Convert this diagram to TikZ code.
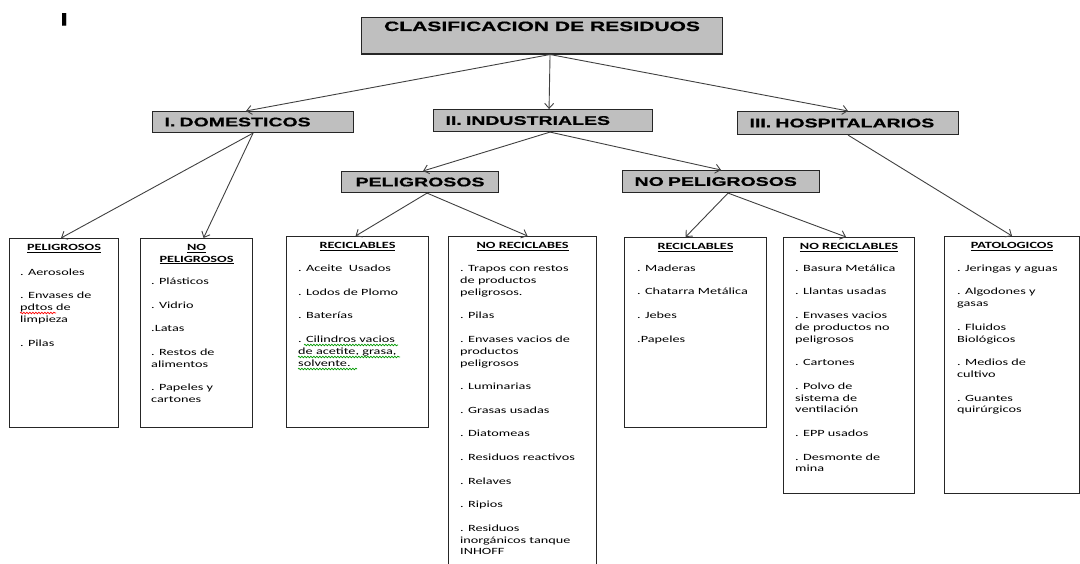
\documentclass[tikz,border=0pt]{standalone}
\usepackage{fontspec}
\usetikzlibrary{arrows.meta,decorations.pathmorphing}
\setmainfont{Carlito}[FakeStretch=1.5]
\newfontfamily\hdrfont{Liberation Sans}[FakeStretch=1.56, BoldFeatures={FakeBold=0.8}]
\tikzset{
  hdr/.style={draw=black!85, line width=1.1pt, fill=gray!50, anchor=north west,
    font=\hdrfont\bfseries\fontsize{12.5}{14}\selectfont, inner xsep=12pt, inner ysep=0pt, align=left},
  leaf/.style={draw=black!85, line width=1.1pt, anchor=north west, inner sep=0pt},
  leafhead/.style={font=\bfseries\fontsize{9.5}{11.8}\selectfont, anchor=north, inner sep=0pt, align=center},
  leaftext/.style={font=\fontsize{9.5}{11.8}\selectfont, anchor=north west, inner sep=0pt, align=left},
  link/.style={->, draw=black!75, line width=0.9pt},
  squiggle/.style={line width=0.7pt, decorate, decoration={snake, amplitude=0.8pt, segment length=3pt}},
}
\newcommand\sk{\\[11.8pt]}
\begin{document}
\begin{tikzpicture}[x=1pt, y=-1pt, >={Straight Barb[length=5pt,width=9pt]}]
		\useasboundingbox (0,0) rectangle (1080,564);
		\clip (0,0) rectangle (1080,564);
		\node[font=\hdrfont\bfseries\fontsize{18}{20}\selectfont, inner sep=0pt, anchor=north west] (mark) at (60,13) {I};
		
		% upper levels
		\node[hdr, minimum width=361pt, align=center, inner ysep=4pt, text depth=19pt,
		  font=\hdrfont\bfseries\fontsize{13.5}{15}\selectfont] (clas) at (361,17) {CLASIFICACION DE RESIDUOS};
		\node[hdr, text width=177pt, minimum height=21pt] (dom) at (152,111) {I. DOMESTICOS};
		\node[hdr, text width=195pt, minimum height=22pt] (ind) at (433,109) {II. INDUSTRIALES};
		\node[hdr, text width=197pt, minimum height=23pt] (hosp) at (737,111) {III. HOSPITALARIOS};
		\node[hdr, text width=133pt, minimum height=21pt, align=center] (pel) at (341,171) {PELIGROSOS};
		\node[hdr, text width=173pt, minimum height=22pt] (np) at (622,170) {NO PELIGROSOS};
		
		% lower boxes
		\node[leaf, minimum width=109pt, minimum height=189pt] (b1) at (9,238) {};
		\node[leaf, minimum width=112pt, minimum height=189pt] (b2) at (140,238) {};
		\node[leaf, minimum width=142pt, minimum height=191pt] (b3) at (286,236) {};
		\node[leaf, minimum width=148pt, minimum height=340pt] (b4) at (448,236) {};
		\node[leaf, minimum width=142pt, minimum height=190pt] (b5) at (624,237) {};
		\node[leaf, minimum width=131pt, minimum height=256pt] (b6) at (783,237) {};
		\node[leaf, minimum width=135pt, minimum height=257pt] (b7) at (944,236) {};
		
		\node[leafhead] (b1h) at ([shift={(0,6)}]b1.north) {\underline{PELIGROSOS}};
		\node[leafhead] (b2h) at ([shift={(0,6)}]b2.north) {\underline{NO}\\\underline{PELIGROSOS}};
		\node[leafhead] (b3h) at ([shift={(0,6)}]b3.north) {\underline{RECICLABLES}};
		\node[leafhead] (b4h) at ([shift={(0,6)}]b4.north) {\underline{NO RECICLABES}};
		\node[leafhead] (b5h) at ([shift={(0,6)}]b5.north) {\underline{RECICLABLES}};
		\node[leafhead] (b6h) at ([shift={(0,6)}]b6.north) {\underline{NO RECICLABLES}};
		\node[leafhead] (b7h) at ([shift={(0,6)}]b7.north) {\underline{PATOLOGICOS}};
		
		\node[leaftext] (b1t) at ([shift={(11,30.5)}]b1.north west)
		  {. Aerosoles\sk . Envases de\\pdtos de\\limpieza\sk . Pilas};
		\node[leaftext] (b2t) at ([shift={(11,40)}]b2.north west)
		  {. Plásticos\sk . Vidrio\sk .Latas\sk . Restos de\\alimentos\sk . Papeles y\\cartones};
		\node[leaftext] (b3t) at ([shift={(12,29)}]b3.north west)
		  {. Aceite\ \ Usados\sk . Lodos de Plomo\sk . Baterías\sk
		   . Cilindros vacios\\de acetite, grasa,\\solvente.};
		\node[leaftext] (b4t) at ([shift={(12,29.5)}]b4.north west)
		  {. Trapos con restos\\de productos\\peligrosos.\sk . Pilas\sk . Envases vacios de\\productos\\peligrosos\sk
		   . Luminarias\sk . Grasas usadas\sk . Diatomeas\sk . Residuos reactivos\sk . Relaves\sk . Ripios\sk
		   . Residuos\\inorgánicos tanque\\INHOFF};
		\node[leaftext] (b5t) at ([shift={(13,27.5)}]b5.north west)
		  {. Maderas\sk . Chatarra Metálica\sk . Jebes\sk .Papeles};
		\node[leaftext] (b6t) at ([shift={(12,27.5)}]b6.north west)
		  {. Basura Metálica\sk . Llantas usadas\sk . Envases vacios\\de productos no\\peligrosos\sk . Cartones\sk
		   . Polvo de\\sistema de\\ventilación\sk . EPP usados\sk . Desmonte de\\mina};
		\node[leaftext] (b7t) at ([shift={(13,28.5)}]b7.north west)
		  {. Jeringas y aguas\sk . Algodones y\\gasas\sk . Fluidos\\Biológicos\sk . Medios de\\cultivo\sk . Guantes\\quirúrgicos};
		
		% spell-check marks
		\draw[squiggle, red] (20,313) -- (56,313);
		\draw[squiggle, green!60!black] (304,345) -- (398,345);
		\draw[squiggle, green!60!black] (298,357) -- (400,357);
		\draw[squiggle, green!60!black] (298,369) -- (357,369);
		
		% connectors
		\draw[link] ([xshift=8pt]clas.south) -- ([xshift=-7pt]dom.north);
		\draw[link] ([xshift=8pt]clas.south) -- ([xshift=6pt]ind.north);
		\draw[link] ([xshift=8pt]clas.south) -- (hosp.north);
		\draw[link] (dom.south) -- ([xshift=-3pt]b1.north);
		\draw[link] (dom.south) -- ([xshift=7pt]b2.north);
		\draw[link] ([xshift=7pt]ind.south) -- ([xshift=3pt]pel.north);
		\draw[link] ([xshift=7pt]ind.south) -- (np.north);
		\draw[link] ([xshift=7pt]pel.south) -- ([xshift=-2pt]b3.north);
		\draw[link] ([xshift=7pt]pel.south) -- ([xshift=5pt]b4.north);
		\draw[link] ([xshift=7pt]np.south) -- ([xshift=-10pt]b5.north);
		\draw[link] ([xshift=7pt]np.south) -- ([xshift=-3pt]b6.north);
		\draw[link] (hosp.south) -- (b7.north);
\end{tikzpicture}
\end{document}
